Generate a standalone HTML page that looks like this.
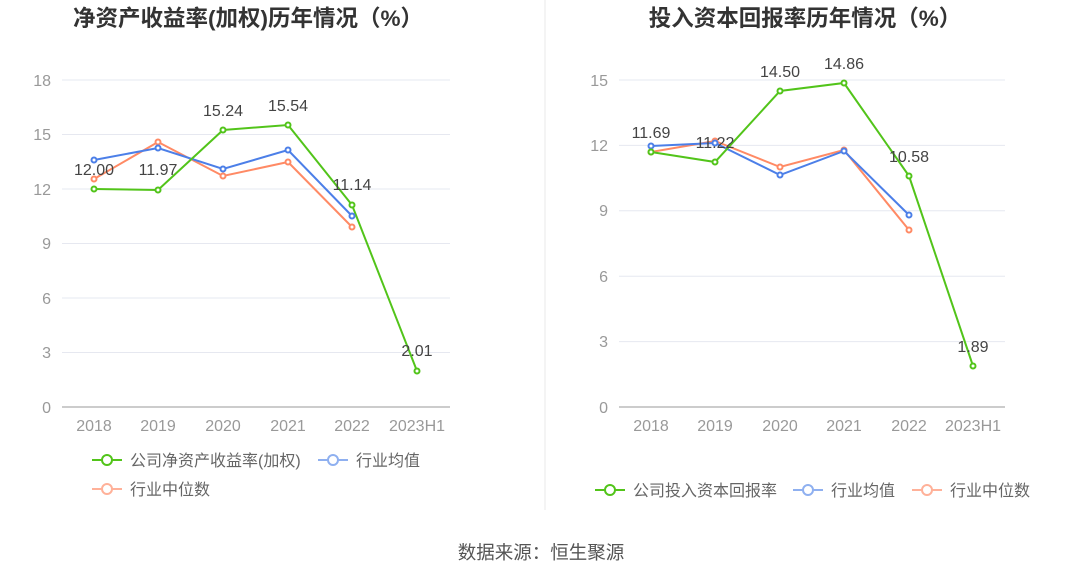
<!DOCTYPE html>
<html><head><meta charset="utf-8"><style>
body{margin:0;background:#fff;}
svg text{font-family:"Liberation Sans","Noto Sans CJK SC",sans-serif;}
</style></head><body>
<svg width="1081" height="580" viewBox="0 0 1081 580" xmlns="http://www.w3.org/2000/svg">
<line x1="545" y1="0" x2="545" y2="510" stroke="#e8e8e8"/>
<text x="248" y="26" font-size="22.5" font-weight="bold" fill="#333" text-anchor="middle">净资产收益率(加权)历年情况（%）</text>
<text x="805" y="26" font-size="22.5" font-weight="bold" fill="#333" text-anchor="middle">投入资本回报率历年情况（%）</text>
<g stroke="#e6e8f0" stroke-width="1">
<line x1="62" y1="80" x2="450" y2="80"/><line x1="62" y1="134.5" x2="450" y2="134.5"/><line x1="62" y1="189" x2="450" y2="189"/><line x1="62" y1="243.5" x2="450" y2="243.5"/><line x1="62" y1="298" x2="450" y2="298"/><line x1="62" y1="352.5" x2="450" y2="352.5"/>
<line x1="619" y1="80" x2="1005" y2="80"/><line x1="619" y1="145.4" x2="1005" y2="145.4"/><line x1="619" y1="210.8" x2="1005" y2="210.8"/><line x1="619" y1="276.2" x2="1005" y2="276.2"/><line x1="619" y1="341.6" x2="1005" y2="341.6"/>
</g>
<line x1="62" y1="407" x2="450" y2="407" stroke="#999"/>
<line x1="619" y1="407" x2="1005" y2="407" stroke="#999"/>
<g font-size="16" fill="#999" text-anchor="end">
<text x="51" y="86">18</text><text x="51" y="140">15</text><text x="51" y="195">12</text><text x="51" y="249">9</text><text x="51" y="304">6</text><text x="51" y="358">3</text><text x="51" y="413">0</text>
<text x="608" y="86">15</text><text x="608" y="151">12</text><text x="608" y="216">9</text><text x="608" y="282">6</text><text x="608" y="347">3</text><text x="608" y="413">0</text>
</g>
<g font-size="16" fill="#999" text-anchor="middle">
<text x="94" y="431">2018</text><text x="158" y="431">2019</text><text x="223" y="431">2020</text><text x="288" y="431">2021</text><text x="352" y="431">2022</text><text x="417" y="431">2023H1</text>
<text x="651" y="431">2018</text><text x="715" y="431">2019</text><text x="780" y="431">2020</text><text x="844" y="431">2021</text><text x="909" y="431">2022</text><text x="973" y="431">2023H1</text>
</g>
<g fill="#fff" stroke-width="2">
<polyline fill="none" stroke="#ff8a65" points="94,179 158,142 223,176 288,162 352,227"/>
<polyline fill="none" stroke="#4c7fe8" points="94,160 158,148 223,169 288,150 352,216"/>
<polyline fill="none" stroke="#52c41a" points="94,189 158,190 223,130 288,125 352,205 417,371"/>
<g stroke="#ff8a65"><circle cx="94" cy="179" r="2.5"/><circle cx="158" cy="142" r="2.5"/><circle cx="223" cy="176" r="2.5"/><circle cx="288" cy="162" r="2.5"/><circle cx="352" cy="227" r="2.5"/></g>
<g stroke="#4c7fe8"><circle cx="94" cy="160" r="2.5"/><circle cx="158" cy="148" r="2.5"/><circle cx="223" cy="169" r="2.5"/><circle cx="288" cy="150" r="2.5"/><circle cx="352" cy="216" r="2.5"/></g>
<g stroke="#52c41a"><circle cx="94" cy="189" r="2.5"/><circle cx="158" cy="190" r="2.5"/><circle cx="223" cy="130" r="2.5"/><circle cx="288" cy="125" r="2.5"/><circle cx="352" cy="205" r="2.5"/><circle cx="417" cy="371" r="2.5"/></g>
<polyline fill="none" stroke="#ff8a65" points="651,152 715,141 780,167 844,150 909,230"/>
<polyline fill="none" stroke="#4c7fe8" points="651,146 715,143 780,175 844,151 909,215"/>
<polyline fill="none" stroke="#52c41a" points="651,152 715,162 780,91 844,83 909,176 973,366"/>
<g stroke="#ff8a65"><circle cx="651" cy="152" r="2.5"/><circle cx="715" cy="141" r="2.5"/><circle cx="780" cy="167" r="2.5"/><circle cx="844" cy="150" r="2.5"/><circle cx="909" cy="230" r="2.5"/></g>
<g stroke="#4c7fe8"><circle cx="651" cy="146" r="2.5"/><circle cx="715" cy="143" r="2.5"/><circle cx="780" cy="175" r="2.5"/><circle cx="844" cy="151" r="2.5"/><circle cx="909" cy="215" r="2.5"/></g>
<g stroke="#52c41a"><circle cx="651" cy="152" r="2.5"/><circle cx="715" cy="162" r="2.5"/><circle cx="780" cy="91" r="2.5"/><circle cx="844" cy="83" r="2.5"/><circle cx="909" cy="176" r="2.5"/><circle cx="973" cy="366" r="2.5"/></g>
</g>
<g font-size="16" fill="#444" text-anchor="middle">
<text x="94" y="175">12.00</text><text x="158" y="175">11.97</text><text x="223" y="116">15.24</text><text x="288" y="111">15.54</text><text x="352" y="190">11.14</text><text x="417" y="356">2.01</text>
<text x="651" y="138">11.69</text><text x="715" y="148">11.22</text><text x="780" y="77">14.50</text><text x="844" y="69">14.86</text><text x="909" y="162">10.58</text><text x="973" y="352">1.89</text>
</g>
<g font-size="16" fill="#666" stroke-width="2">
<line x1="92" y1="460" x2="122" y2="460" stroke="#52c41a"/><circle cx="107" cy="460" r="5" fill="#fff" stroke="#52c41a"/><text x="130" y="466" stroke="none">公司净资产收益率(加权)</text>
<line x1="318" y1="460" x2="348" y2="460" stroke="#8fb0f0"/><circle cx="333" cy="460" r="5" fill="#fff" stroke="#8fb0f0"/><text x="356" y="466" stroke="none">行业均值</text>
<line x1="92" y1="489" x2="122" y2="489" stroke="#ffb199"/><circle cx="107" cy="489" r="5" fill="#fff" stroke="#ffb199"/><text x="130" y="495" stroke="none">行业中位数</text>
<line x1="595" y1="490" x2="625" y2="490" stroke="#52c41a"/><circle cx="610" cy="490" r="5" fill="#fff" stroke="#52c41a"/><text x="633" y="496" stroke="none">公司投入资本回报率</text>
<line x1="793" y1="490" x2="823" y2="490" stroke="#8fb0f0"/><circle cx="808" cy="490" r="5" fill="#fff" stroke="#8fb0f0"/><text x="831" y="496" stroke="none">行业均值</text>
<line x1="912" y1="490" x2="942" y2="490" stroke="#ffb199"/><circle cx="927" cy="490" r="5" fill="#fff" stroke="#ffb199"/><text x="950" y="496" stroke="none">行业中位数</text>
</g>
<text x="541" y="559" font-size="18.5" fill="#555" text-anchor="middle">数据来源：恒生聚源</text>
</svg>
</body></html>
